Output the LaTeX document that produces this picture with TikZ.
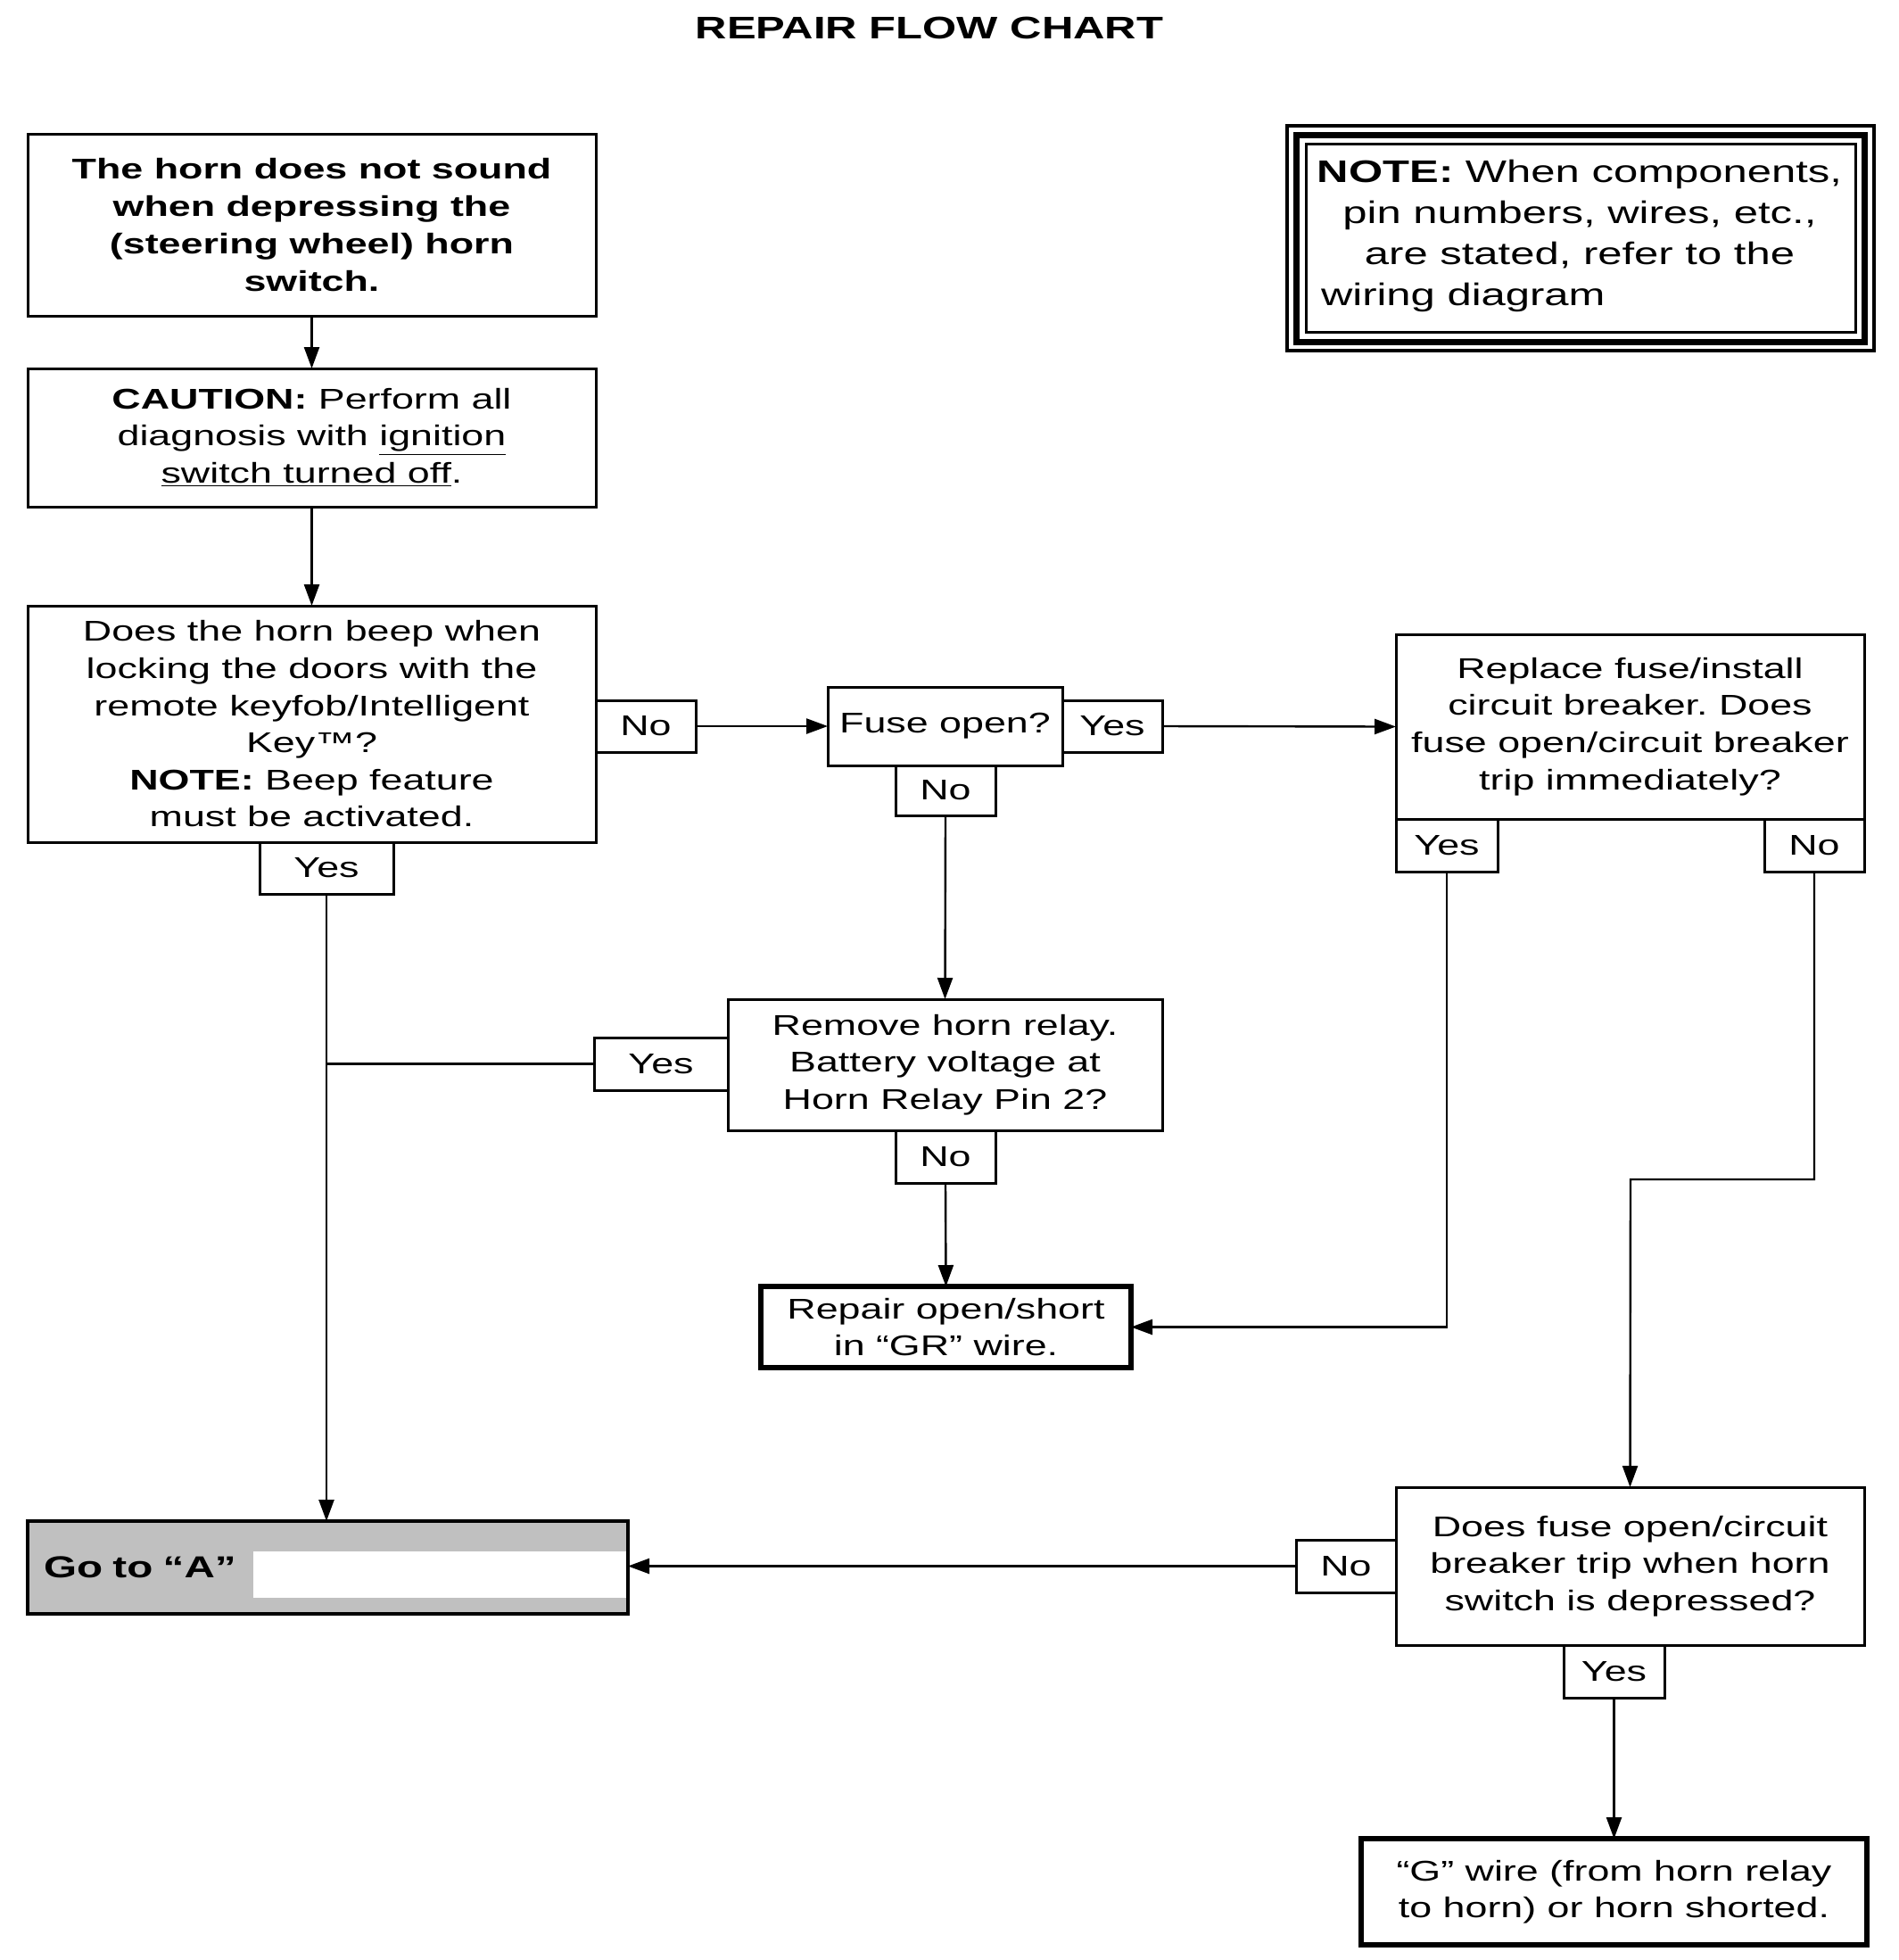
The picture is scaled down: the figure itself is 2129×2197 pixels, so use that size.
\documentclass[tikz,border=0pt]{standalone}
\usepackage{fontspec}
\setmainfont{Liberation Sans}[FakeStretch=1.4]
\usetikzlibrary{arrows.meta}
\definecolor{boxgray}{HTML}{C0C0C0}
\frenchspacing
\begin{document}
\begin{tikzpicture}[x=0.5pt,y=-0.5pt,
  every node/.style={inner sep=0pt, outer sep=0pt},
  txt/.style={font=\fontsize{16}{20.8}\selectfont, align=center},
  box/.style={draw, line width=1.5pt, txt},
  hbox/.style={draw, line width=3pt, txt},
  lbl/.style={draw, line width=1.5pt, font=\fontsize{16}{20}\selectfont, minimum width=56pt, minimum height=29pt},
  arr/.style={line width=1.2pt, -{Triangle[length=12pt,width=8.5pt]}},
  ln/.style={line width=1.2pt}]
\useasboundingbox (0,0) rectangle (2129,2197);

\node[font=\bfseries\fontsize{17.5}{20}\selectfont] (title) at (1042,31) {REPAIR FLOW CHART};

\node[box, font=\bfseries\fontsize{16}{21}\selectfont, minimum width=318.5pt, minimum height=102pt] (b1) at (349.5,252)
  {The horn does not sound\\when depressing the\\(steering wheel) horn\\switch.};
\node[box, minimum width=318.5pt, minimum height=77.5pt] (b2) at (349.5,490.5)
  {\textbf{CAUTION:} Perform all\\diagnosis with \underline{ignition}\\\underline{switch turned off}.};
\node[box, minimum width=318.5pt, minimum height=132.5pt] (b3) at (349.5,811.5)
  {Does the horn beep when\\locking the doors with the\\remote keyfob/Intelligent\\Key™?\\\textbf{NOTE:} Beep feature\\must be activated.};
\node[lbl] (no1) at (724,814) {No};
\node[box, minimum width=131.5pt, minimum height=44pt] (fuse) at (1059.5,814) {Fuse open?};
\node[lbl] (yes1) at (1247,814) {Yes};
\node[box, minimum width=262.5pt, minimum height=103.5pt] (repl) at (1827.5,814.5)
  {Replace fuse/install\\circuit breaker. Does\\fuse open/circuit breaker\\trip immediately?};
\node[lbl, minimum width=57pt, minimum height=29.5pt] (yes2) at (1622,947.5) {Yes};
\node[lbl, minimum height=29.5pt] (no2) at (2034,947.5) {No};
\node[lbl, minimum height=28pt] (no3) at (1060,886) {No};
\node[box, minimum width=243.5pt, minimum height=73.5pt] (remove) at (1059.5,1193.5)
  {Remove horn relay.\\Battery voltage at\\Horn Relay Pin 2?};
\node[lbl, minimum width=75pt, minimum height=29.5pt] (yes3) at (741,1192.5) {Yes};
\node[lbl, minimum width=75pt] (yes4) at (366,973) {Yes};
\node[lbl, minimum height=29.5pt] (no4) at (1060,1296.5) {No};
\node[hbox, minimum width=207.5pt, minimum height=45.5pt] (repair) at (1060.5,1487.5)
  {Repair open/short\\in “GR” wire.};
\node[box, minimum width=262.5pt, minimum height=88.5pt] (dfuse) at (1827.5,1755.5)
  {Does fuse open/circuit\\breaker trip when horn\\switch is depressed?};
\node[lbl, minimum height=29.5pt] (no5) at (1509,1755.5) {No};
\node[draw, fill=boxgray, line width=1.8pt, minimum height=52pt, inner xsep=9pt, text width=318.5pt, align=left,
  font=\bfseries\fontsize{17}{20}\selectfont] (goto) at (367.5,1757) {Go to “A”};
\fill[white] (284,1739) rectangle (702,1791);
\node[lbl, minimum width=56.5pt, minimum height=29.5pt] (yes5) at (1809.5,1873.5) {Yes};
\node[hbox, minimum width=283.5pt, minimum height=59.5pt] (gbox) at (1809.5,2120.5)
  {“G” wire (from horn relay\\to horn) or horn shorted.};

% note frame
\node[draw, line width=1.6pt, minimum width=329pt, minimum height=126pt] (note) at (1772,267) {};
\draw[line width=3.5pt] (1453.5,151) rectangle (2090.5,383);
\draw[line width=1.5pt] (1464,161.5) rectangle (2080,372.5);
\node[font=\fontsize{17.5}{23}\selectfont, align=center] (notetxt) at (1771,240)
  {\textbf{NOTE:} When components,\\pin numbers, wires, etc.,\\are stated, refer to the};
\node[font=\fontsize{17.5}{23}\selectfont, anchor=base west] (notelast) at (1481,342) {wiring diagram};

% connectors
\draw[arr] (b1.south) -- (b2.north);
\draw[arr] (b2.south) -- (b3.north);
\draw[arr] (no1.east) -- (fuse.west);
\draw[arr] (yes1.east) -- (repl.west);
\draw[arr] (no3.south) -- (remove.north);
\draw[arr] (no4.south) -- (repair.north);
\draw[arr] (yes4.south) -- (yes4.south |- goto.north);
\draw[ln] (yes3.west) -- (yes4.south |- yes3.west);
\draw[arr] (yes2.south) |- (repair.east);
\coordinate (kink) at (1828,1322);
\draw[arr] (no2.south) |- (kink) -- (dfuse.north);
\draw[arr] (no5.west) -- (no5.west -| goto.east);
\draw[arr] (yes5.south) -- (gbox.north);
\end{tikzpicture}
\end{document}
